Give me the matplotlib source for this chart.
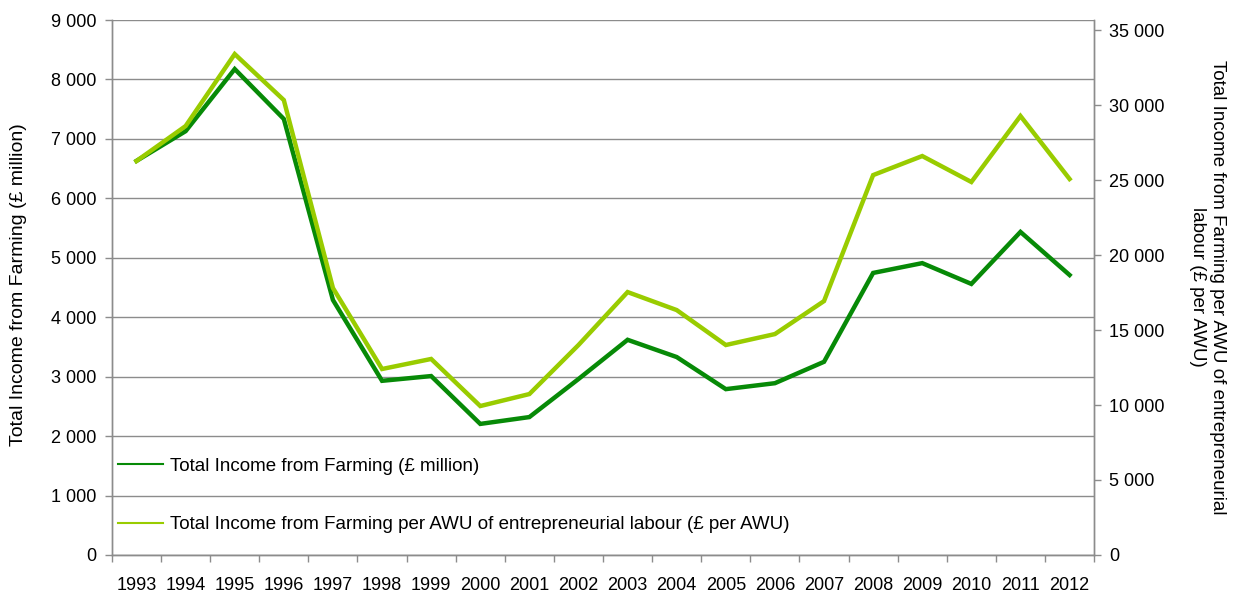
import matplotlib.pyplot as plt
from matplotlib.ticker import FuncFormatter, FixedLocator
from matplotlib.lines import Line2D

plt.rcParams['font.family'] = ['Liberation Sans', 'DejaVu Sans']

years = [str(y) for y in range(1993, 2013)]
income_million = [6630, 7130, 8175, 7335, 4290, 2930, 3010, 2205, 2320, 2960,
                  3620, 3330, 2790, 2890, 3250, 4745, 4910, 4560, 5435, 4710]
income_per_awu = [26270, 28600, 33400, 30330, 17800, 12400, 13070, 9930, 10730, 14000,
                  17530, 16330, 14000, 14730, 16930, 25330, 26600, 24870, 29270, 25070]

dark = '#078a07'
light = '#99cc00'
grey = '#8c8c8c'

def spaced(v, pos):
    return '{:,.0f}'.format(v).replace(',', ' ')

fig = plt.figure(figsize=(12.37, 5.94), dpi=100)
ax = fig.add_axes([0.0905, 0.0657, 0.794, 0.9006])
ax2 = ax.twinx()

x = range(len(years))
l1, = ax.plot(x, income_million, color=dark, lw=3.2, solid_joinstyle='miter')
l2, = ax2.plot(x, income_per_awu, color=light, lw=3.2, solid_joinstyle='miter')

ax.set_xlim(-0.5, len(years) - 0.5)
ax.set_ylim(0, 9000)
ax2.set_ylim(0, 35670)
ax.set_yticks(range(0, 9001, 1000))
ax2.set_yticks(range(0, 35001, 5000))
ax.yaxis.set_major_formatter(FuncFormatter(spaced))
ax2.yaxis.set_major_formatter(FuncFormatter(spaced))

ax.set_xticks(list(x))
ax.set_xticklabels(years)
ax.xaxis.set_minor_locator(FixedLocator([i - 0.5 for i in range(len(years) + 1)]))
ax.tick_params(axis='x', which='major', length=0, pad=16, labelsize=13)
ax.tick_params(axis='x', which='minor', length=5, color=grey, width=1)
ax.tick_params(axis='y', length=5, color=grey, width=1, labelsize=13, pad=6)
ax2.tick_params(axis='y', length=5, color=grey, width=1, labelsize=13, pad=6)

ax.grid(axis='y', color=grey, lw=1)
ax.set_axisbelow(True)
for a in (ax, ax2):
    a.spines['top'].set_visible(False)
    for s in ('left', 'right', 'bottom'):
        a.spines[s].set_color(grey)
        a.spines[s].set_linewidth(1)

fig.text(0.0146, 0.52, 'Total Income from Farming (£ million)', rotation=90,
         ha='center', va='center', fontsize=14)
fig.text(0.976, 0.517,
         'Total Income from Farming per AWU of entrepreneurial\nlabour (£ per AWU)',
         rotation=-90, ha='center', va='center', fontsize=13.5, multialignment='center')

handles = [Line2D([], [], color=dark, lw=1.5), Line2D([], [], color=light, lw=1.5)]
labels = ['Total Income from Farming (£ million)',
          'Total Income from Farming per AWU of entrepreneurial labour (£ per AWU)']
ax2.legend(handles, labels, loc='lower left', bbox_to_anchor=(0.0, 0.03),
           frameon=False, fontsize=13.5, labelspacing=2.2, handlelength=2.4,
           handletextpad=0.4, borderpad=0.1, borderaxespad=0.2)

fig.savefig('out.png', dpi=100)
